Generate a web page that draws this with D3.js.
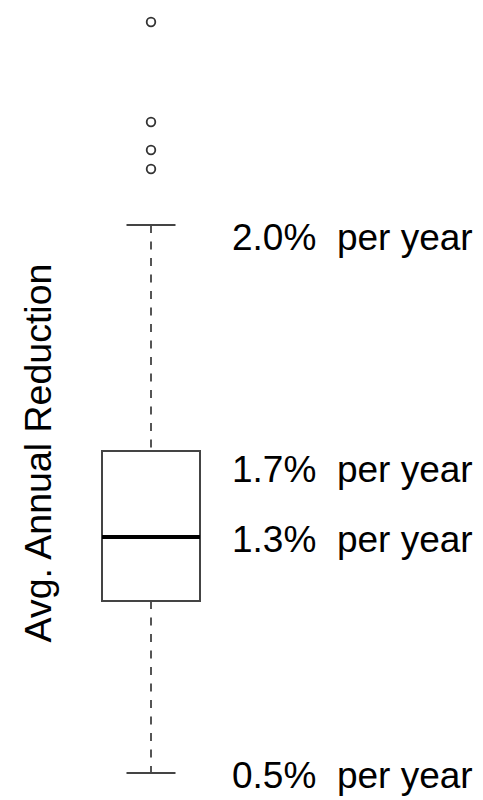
<!DOCTYPE html>
<html>
<head>
<meta charset="utf-8">
<script src="https://cdn.jsdelivr.net/npm/d3@7"></script>
<style>
  html, body { margin: 0; padding: 0; background: #fff; }
  svg { display: block; font-family: "Liberation Sans", Arial, sans-serif; }
</style>
</head>
<body>
<div id="chart"></div>
<script>
// box plot stats, in chart units
const stats = ["lower", "q1", "median", "q3", "upper"];
const statValues = [0.27, 1.99, 2.63, 3.49, 5.75];
const outliers = [7.78, 6.78, 6.50, 6.31];

// annotation text and where each sits (chart units, baseline)
const labelText = ["2.0%  per year", "1.7%  per year", "1.3%  per year", "0.5%  per year"];
const labelAt = [5.50, 3.18, 2.48, 0.12];

const axisTitle = "Avg. Annual Reduction";

const width = 483,
    height = 800;

const svg = d3.select("#chart") //svg sized to the window
  .append("svg")
  .attr("width", width)
  .attr("height", height)
  .attr("viewBox", [0, 0, width, height]);

let s = {};
stats.forEach((k, i) => s[k] = statValues[i]);

let y = d3.scaleLinear()
  .domain([0, 8])
  .range([800, 0]);

let x = d3.scaleBand() // one box
  .domain(["all"])
  .range([102, 200])
  .padding(0);

let cx = x("all") + x.bandwidth() / 2;
let capHalf = x.bandwidth() / 4;

// whiskers, dashed
svg.append("line")
  .attr("x1", cx).attr("x2", cx)
  .attr("y1", y(s.upper)).attr("y2", y(s.q3))
  .attr("stroke", "#555").attr("stroke-width", 2)
  .attr("stroke-dasharray", "8,8.5");

svg.append("line")
  .attr("x1", cx).attr("x2", cx)
  .attr("y1", y(s.q1)).attr("y2", y(s.lower))
  .attr("stroke", "#555").attr("stroke-width", 2)
  .attr("stroke-dasharray", "8,8.5");

// whisker caps
svg.selectAll(".cap")
  .data([s.upper, s.lower])
  .join("line")
  .attr("class", "cap")
  .attr("x1", cx - capHalf).attr("x2", cx + capHalf)
  .attr("y1", d => y(d)).attr("y2", d => y(d))
  .attr("stroke", "#444").attr("stroke-width", 2);

// box
svg.append("rect")
  .attr("x", x("all"))
  .attr("y", y(s.q3))
  .attr("width", x.bandwidth())
  .attr("height", y(s.q1) - y(s.q3))
  .attr("fill", "none")
  .attr("stroke", "#444")
  .attr("stroke-width", 2);

// median
svg.append("line")
  .attr("x1", x("all")).attr("x2", x("all") + x.bandwidth())
  .attr("y1", y(s.median)).attr("y2", y(s.median))
  .attr("stroke", "#000").attr("stroke-width", 4);

// outliers
svg.selectAll(".out")
  .data(outliers)
  .join("circle")
  .attr("class", "out")
  .attr("cx", cx)
  .attr("cy", d => y(d))
  .attr("r", 4.3)
  .attr("fill", "none")
  .attr("stroke", "#333")
  .attr("stroke-width", 1.8);

// annotations
svg.selectAll(".lab")
  .data(labelText)
  .join("text")
  .attr("class", "lab")
  .attr("x", 232)
  .attr("y", (d, i) => y(labelAt[i]))
  .attr("font-size", 37)
  .attr("fill", "#000")
  .style("white-space", "pre")
  .text(d => d);

// y title
svg.append("text")
  .attr("transform", `translate(51,453) rotate(-90)`)
  .attr("text-anchor", "middle")
  .attr("font-size", 37.5)
  .attr("fill", "#000")
  .text(axisTitle);
</script>
</body>
</html>
